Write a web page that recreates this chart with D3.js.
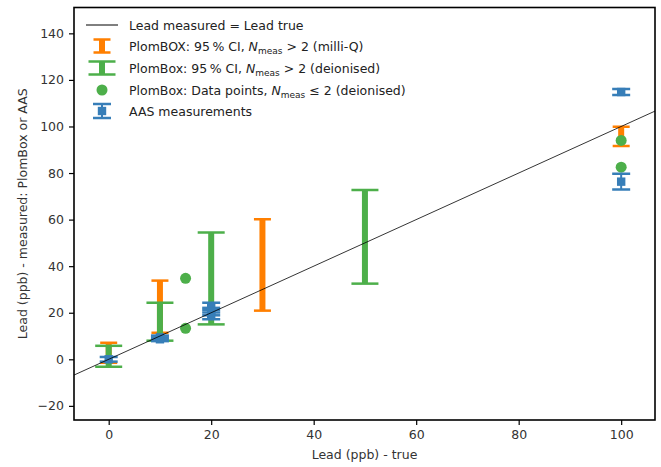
<!DOCTYPE html>
<html><head><meta charset="utf-8">
<script src="https://cdn.jsdelivr.net/npm/d3@7"></script>
<style>
body{margin:0;background:#fff;}
svg{display:block;font-family:"DejaVu Sans",sans-serif;}
</style></head><body>
<svg id="c" width="661" height="467"></svg>
<script>
// ---- data ----
const xTicks = [0, 20, 40, 60, 80, 100];
const yTicks = [-20, 0, 20, 40, 60, 80, 100, 120, 140];
// PlomBOX 95% CI, milli-Q
const orangeX  = [0, 10, 30, 100];
const orangeLo = [-1.5, 11.4, 20.9, 91.6];
const orangeHi = [7.1, 33.8, 60.2, 99.9];
// PlomBox 95% CI, deionised
const greenX  = [0, 10, 20, 50];
const greenLo = [-3.2, 8.0, 15.0, 32.5];
const greenHi = [5.8, 24.3, 54.5, 72.7];
// PlomBox data points N<=2 deionised
const greenPtX = [15, 15, 100, 100];
const greenPtY = [34.8, 13.3, 94.0, 82.5];
// AAS measurements
const aasX   = [0, 10, 10, 20, 20, 20, 100, 100];
const aasY   = [0, 8.6, 9.4, 22.2, 20.5, 19.2, 114.8, 76.3];
const aasErr = [1.0, 0.8, 0.8, 2.1, 1.6, 2.0, 1.3, 3.4];
const lineX = [-10, 110];

const C_OR = "#ff7f00", C_GR = "#4daf4a", C_BL = "#377eb8";

const svg = d3.select("#c");
const L = 74, R = 655, T = 7.5, B = 420;
const x = d3.scaleLinear().domain([-6.77, 106.6]).range([L, R]);
const y = d3.scaleLinear().domain([-26.07, 151.1]).range([B, T]);

const clip = svg.append("clipPath").attr("id","pc").append("rect")
  .attr("x",L).attr("y",T).attr("width",R-L).attr("height",B-T);
const g = svg.append("g").attr("clip-path","url(#pc)");

function errbars(xs, lo, hi, color, lw, capW, capLw){
  xs.forEach((xv,i)=>{
    const px = x(xv);
    g.append("line").attr("x1",px).attr("x2",px).attr("y1",y(lo[i])).attr("y2",y(hi[i]))
      .attr("stroke",color).attr("stroke-width",lw);
    [lo[i],hi[i]].forEach(v=>{
      g.append("line").attr("x1",px-capW/2).attr("x2",px+capW/2).attr("y1",y(v)).attr("y2",y(v))
        .attr("stroke",color).attr("stroke-width",capLw);
    });
  });
}
errbars(orangeX, orangeLo, orangeHi, C_OR, 6, 17, 2.5);
errbars(greenX, greenLo, greenHi, C_GR, 6, 27, 2.5);
greenPtX.forEach((xv,i)=>{
  g.append("circle").attr("cx",x(xv)).attr("cy",y(greenPtY[i])).attr("r",5.5).attr("fill",C_GR);
});
errbars(aasX, aasY.map((v,i)=>v-aasErr[i]), aasY.map((v,i)=>v+aasErr[i]), C_BL, 2, 18, 2.5);
aasX.forEach((xv,i)=>{
  g.append("rect").attr("x",x(xv)-4.2).attr("y",y(aasY[i])-4.2).attr("width",8.4).attr("height",8.4)
   .attr("fill",C_BL);
});
g.append("line").attr("x1",x(lineX[0])).attr("y1",y(lineX[0])).attr("x2",x(lineX[1])).attr("y2",y(lineX[1]))
  .attr("stroke","#000").attr("stroke-width",0.8);

// axes
const ax = svg.append("g").attr("transform",`translate(0,${B})`)
  .call(d3.axisBottom(x).tickValues(xTicks).tickSize(5).tickPadding(5).tickFormat(d3.format("d")));
const ay = svg.append("g").attr("transform",`translate(${L},0)`)
  .call(d3.axisLeft(y).tickValues(yTicks).tickSize(5).tickPadding(5).tickFormat(d=> d<0 ? "\u2212"+Math.abs(d) : d));
[ax,ay].forEach(a=>{
  a.select(".domain").remove();
  a.selectAll(".tick line").attr("stroke","#000").attr("stroke-width",1.2);
  a.selectAll(".tick text").attr("fill","#333").attr("font-size",12.5).attr("font-family","DejaVu Sans");
});
svg.append("rect").attr("x",L).attr("y",T).attr("width",R-L).attr("height",B-T)
  .attr("fill","none").attr("stroke","#000").attr("stroke-width",1.6);

svg.append("text").attr("x",(L+R)/2).attr("y",459).attr("text-anchor","middle")
  .attr("font-size",12.5).attr("fill","#333").text("Lead (ppb) - true");
svg.append("text").attr("transform",`translate(27,${(T+B)/2}) rotate(-90)`).attr("text-anchor","middle")
  .attr("font-size",12.5).attr("fill","#333").text("Lead (ppb) - measured: PlomBox or AAS");

// legend
const lg = svg.append("g");
const lx = 102, tx = 129;
const rows = [25, 46, 68, 90, 111];
lg.append("line").attr("x1",86).attr("x2",118).attr("y1",rows[0]).attr("y2",rows[0]).attr("stroke","#000").attr("stroke-width",1);
function legErr(cy, color, lw, capW, h){
  lg.append("line").attr("x1",lx).attr("x2",lx).attr("y1",cy-h/2).attr("y2",cy+h/2).attr("stroke",color).attr("stroke-width",lw);
  [cy-h/2, cy+h/2].forEach(v=>lg.append("line").attr("x1",lx-capW/2).attr("x2",lx+capW/2).attr("y1",v).attr("y2",v).attr("stroke",color).attr("stroke-width",2.5));
}
legErr(rows[1], C_OR, 6, 17, 13);
legErr(rows[2], C_GR, 6, 27, 13);
lg.append("circle").attr("cx",lx).attr("cy",rows[3]).attr("r",5.5).attr("fill",C_GR);
legErr(rows[4], C_BL, 2, 18, 14);
lg.append("rect").attr("x",lx-4.2).attr("y",rows[4]-4.2).attr("width",8.4).attr("height",8.4).attr("fill",C_BL);

const fs = 12.5;
function legText(cy, parts){
  const t = lg.append("text").attr("x",tx).attr("y",cy+4.5).attr("font-size",fs).attr("fill","#222");
  parts.forEach(p=>{
    const s = t.append("tspan").text(p.t);
    if(p.i) s.attr("font-style","italic");
    if(p.sub) s.attr("font-size",fs*0.72).attr("dy",3);
    if(p.up) s.attr("dy",-3);
  });
}
legText(rows[0], [{t:"Lead measured = Lead true"}]);
legText(rows[1], [{t:"PlomBOX: 95\u2009% CI, "},{t:"N",i:1},{t:"meas",sub:1},{t:" > 2 (milli-Q)",up:1}]);
legText(rows[2], [{t:"PlomBox: 95\u2009% CI, "},{t:"N",i:1},{t:"meas",sub:1},{t:" > 2 (deionised)",up:1}]);
legText(rows[3], [{t:"PlomBox: Data points, "},{t:"N",i:1},{t:"meas",sub:1},{t:" \u2264 2 (deionised)",up:1}]);
legText(rows[4], [{t:"AAS measurements"}]);
</script></body></html>
